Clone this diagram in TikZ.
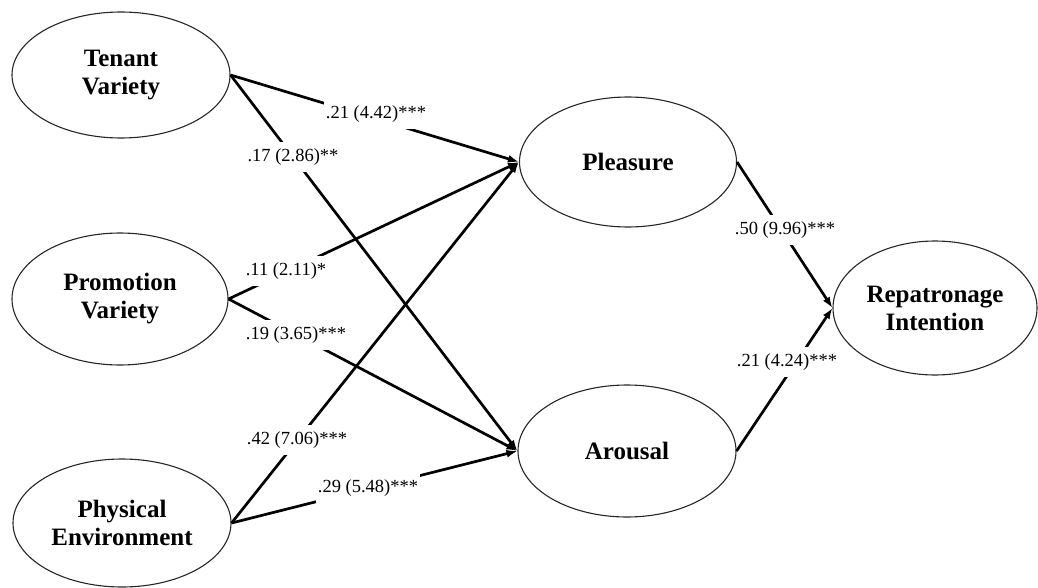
\documentclass[tikz,border=0pt]{standalone}
\usepackage{fontspec}
\setmainfont{Liberation Serif}
\usetikzlibrary{shapes.geometric,arrows.meta}
\begin{document}
\begin{tikzpicture}[x=1pt,y=-1pt,
  latent/.style={ellipse,draw=black!85,line width=1.1pt,align=center,
    font=\fontsize{25}{28}\selectfont\bfseries,inner sep=0pt},
  pathline/.style={line width=2.7pt,-{Latex[length=11pt,width=8pt]}},
  coef/.style={fill=white,inner xsep=2pt,inner ysep=7pt,
    font=\fontsize{18.5}{20}\selectfont}]
\useasboundingbox (0,0) rectangle (1038,588);
% latent variables
\node[latent,minimum width=218pt,minimum height=126pt] (T) at (121,75) {Tenant\\Variety};
\node[latent,minimum width=216pt,minimum height=132pt] (P) at (120,299) {Promotion\\Variety};
\node[latent,minimum width=218pt,minimum height=128pt] (E) at (122,523) {Physical\\Environment};
\node[latent,minimum width=217pt,minimum height=130pt] (Pl) at (628,162) {Pleasure};
\node[latent,minimum width=218pt,minimum height=132pt] (A) at (627,451) {Arousal};
\node[latent,minimum width=204pt,minimum height=134pt] (R) at (935,308) {Repatronage\\Intention};
% paths
\draw[pathline] (T.east) -- (Pl.west);
\draw[pathline] (T.east) -- (A.west);
\draw[pathline] (P.east) -- (Pl.west);
\draw[pathline] (P.east) -- (A.west);
\draw[pathline] (E.east) -- (Pl.west);
\draw[pathline] (E.east) -- (A.west);
\draw[pathline] (Pl.east) -- (R.west);
\draw[pathline] (A.east) -- (R.west);
% coefficients
\node[coef] (c1) at (376,114) {.21 (4.42)***};
\node[coef] (c2) at (293,157) {.17 (2.86)**};
\node[coef] (c3) at (286,271) {.11 (2.11)*};
\node[coef] (c4) at (296,335) {.19 (3.65)***};
\node[coef] (c5) at (297,440) {.42 (7.06)***};
\node[coef] (c6) at (368,488) {.29 (5.48)***};
\node[coef] (c7) at (785,230) {.50 (9.96)***};
\node[coef] (c8) at (787,362) {.21 (4.24)***};
\end{tikzpicture}
\end{document}
